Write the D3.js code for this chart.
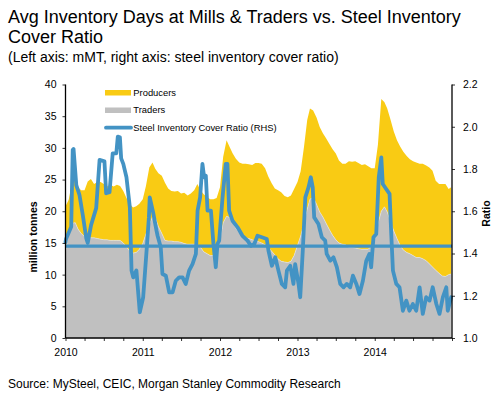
<!DOCTYPE html>
<html>
<head>
<meta charset="utf-8">
<script src="https://cdn.jsdelivr.net/npm/d3@7/dist/d3.min.js"></script>
<style>
  html, body { margin: 0; padding: 0; background: #fff; }
  svg { display: block; font-family: "Liberation Sans", Arial, sans-serif; }
</style>
</head>
<body>
<svg id="chart" width="491" height="397"></svg>
<script>
// ---------- DATA ----------
const titleLines = ["Avg Inventory Days at Mills & Traders vs. Steel Inventory", "Cover Ratio"];
const subtitle = "(Left axis: mMT, right axis: steel inventory cover ratio)";
const sourceText = "Source: MySteel, CEIC, Morgan Stanley Commodity Research";
const seriesNames = ["Producers", "Traders", "Steel Inventory Cover Ratio (RHS)"];
const leftTicks = [0, 5, 10, 15, 20, 25, 30, 35, 40];
const rightTicks = [1.0, 1.2, 1.4, 1.6, 1.8, 2.0, 2.2];
const yearLabels = ["2010", "2011", "2012", "2013", "2014"];

// semi-monthly periods (1st & 16th of each month), 2010-01 .. 2014-12, plus last reading
const periodDates = [];
for (let y = 2010; y <= 2014; y++) for (let m = 0; m < 12; m++) {
  periodDates.push(new Date(y, m, 1), new Date(y, m, 16));
}
periodDates.push(new Date(2014, 11, 28));

// million tonnes, stacked: traders (bottom) + producers (top)
const traders = [
  13.5,16.8,18.1,18.2,17.2,16.5,16.0,15.9,15.8,15.8,15.7,15.6,15.5,15.5,15.4,15.4,15.4,15.4,15.0,14.4,
  13.7,13.4,13.5,14.0,14.9,16.4,17.9,19.1,19.0,17.6,16.5,15.4,15.3,15.3,15.2,15.2,15.1,14.9,14.8,14.8,
  14.8,14.8,14.3,13.6,13.3,13.0,13.0,13.6,15.5,18.2,19.2,19.0,18.2,17.3,16.6,16.1,15.8,15.7,15.5,15.3,
  15.2,15.0,14.7,14.3,13.7,13.1,12.5,12.1,12.0,11.9,12.1,13.0,14.6,16.1,18.2,20.3,21.9,22.2,21.1,19.9,
  19.1,18.1,17.1,16.2,15.5,15.0,14.8,14.7,14.3,14.3,14.2,14.1,14.0,14.0,14.0,14.5,15.9,18.0,20.0,20.7,
  19.9,18.4,16.9,15.7,14.6,13.9,13.5,13.3,13.0,12.7,12.7,12.5,12.2,11.7,11.2,10.7,10.2,9.8,9.7,10.0,10.1
];
const producers = [
  7.3,5.0,6.4,7.9,6.6,6.8,7.3,8.8,9.3,8.5,8.9,9.0,8.8,8.4,8.8,8.5,8.8,8.6,8.2,7.7,
  7.4,7.2,7.3,7.2,7.0,7.6,9.0,8.6,7.7,8.4,9.1,9.1,8.3,7.9,7.9,8.0,7.7,8.0,7.7,8.0,
  8.5,9.5,9.0,9.1,8.9,8.9,8.9,8.5,8.3,10.4,12.0,11.1,10.9,11.0,11.1,11.4,11.7,11.7,11.8,12.3,
  12.4,12.5,12.1,11.2,10.7,10.5,10.8,10.9,10.4,10.3,10.4,10.5,10.0,10.2,12.0,14.1,14.3,13.7,13.7,13.4,
  13.2,13.4,13.5,13.6,13.6,13.0,12.7,12.8,13.6,13.5,13.7,13.5,13.3,13.4,13.1,12.3,10.9,12.5,17.7,16.5,
  16.3,16.1,15.7,15.5,15.6,15.5,15.2,14.9,14.9,15.0,14.8,15.0,15.0,15.2,15.2,14.1,14.1,14.5,14.6,13.5,13.7
];

// steel inventory cover ratio (RHS)
const ratioDates = [
  "2010-01-01","2010-01-04","2010-01-28","2010-02-04","2010-02-08","2010-02-21","2010-03-08","2010-03-24",
  "2010-04-09","2010-04-16","2010-05-02","2010-05-26","2010-06-11","2010-07-04","2010-07-12","2010-07-28",
  "2010-08-12","2010-08-29","2010-09-05","2010-09-15","2010-09-21","2010-10-01","2010-10-16","2010-11-01",
  "2010-11-09","2010-11-17","2010-12-02","2010-12-18","2011-01-03","2011-01-19","2011-01-30","2011-02-03",
  "2011-02-19","2011-03-07","2011-03-12","2011-03-27","2011-04-04","2011-04-20","2011-05-06","2011-05-22",
  "2011-06-06","2011-06-22","2011-07-08","2011-07-23","2011-08-08","2011-08-24","2011-09-09","2011-09-17",
  "2011-09-29","2011-10-10","2011-10-18","2011-10-26","2011-11-03","2011-11-19","2011-12-01","2011-12-12",
  "2011-12-20","2011-12-28","2012-01-13","2012-01-28","2012-02-05","2012-02-13","2012-02-29","2012-03-24",
  "2012-04-16","2012-05-10","2012-05-26","2012-06-11","2012-06-26","2012-07-17","2012-08-09","2012-08-17",
  "2012-09-02","2012-09-18","2012-10-03","2012-10-19","2012-11-04","2012-11-12","2012-11-28","2012-12-13",
  "2012-12-21","2013-01-06","2013-01-14","2013-01-26","2013-02-07","2013-02-22","2013-03-05","2013-03-14",
  "2013-03-21","2013-04-10","2013-04-26","2013-05-12","2013-05-19","2013-06-05","2013-06-20","2013-07-06",
  "2013-07-22","2013-08-07","2013-08-22","2013-09-07","2013-09-20","2013-10-06","2013-10-21","2013-11-06",
  "2013-11-22","2013-12-07","2013-12-15","2013-12-26","2014-01-08","2014-01-20","2014-02-01","2014-02-08",
  "2014-02-24","2014-03-12","2014-03-20","2014-03-28","2014-04-13","2014-04-28","2014-05-14","2014-05-30",
  "2014-06-14","2014-06-30","2014-07-16","2014-08-01","2014-08-16","2014-09-01","2014-09-17","2014-10-02",
  "2014-10-19","2014-11-03","2014-11-19","2014-12-05","2014-12-12","2014-12-28"
];
const ratioValues = [
  1.454,1.470,1.527,1.890,1.895,1.724,1.677,1.580,
  1.473,1.450,1.535,1.615,1.843,1.836,1.685,1.690,
  1.874,1.874,1.953,1.950,1.850,1.824,1.761,1.619,
  1.319,1.287,1.320,1.122,1.193,1.413,1.571,1.666,
  1.595,1.508,1.484,1.429,1.303,1.295,1.216,1.216,
  1.271,1.287,1.287,1.256,1.319,1.350,1.398,1.603,
  1.666,1.824,1.761,1.768,1.603,1.603,1.445,1.335,
  1.445,1.461,1.666,1.824,1.824,1.603,1.555,1.524,
  1.484,1.461,1.437,1.445,1.484,1.477,1.469,1.413,
  1.342,1.382,1.319,1.256,1.240,1.319,1.342,1.256,
  1.350,1.256,1.193,1.413,1.666,1.713,1.761,1.713,
  1.571,1.540,1.477,1.461,1.398,1.366,1.382,1.335,
  1.256,1.240,1.256,1.240,1.295,1.256,1.208,1.271,
  1.366,1.398,1.335,1.477,1.492,1.761,1.855,1.729,
  1.705,1.682,1.492,1.319,1.256,1.240,1.129,1.177,
  1.129,1.161,1.129,1.240,1.114,1.193,1.177,1.240,
  1.161,1.114,1.193,1.240,1.129,1.193
];
const ratioAverage = 1.435;

// ---------- STYLE ----------
const colProducers = "#f9cb14";
const colTraders = "#c0c0c0";
const colRatio = "#4393c4";

// ---------- DRAW ----------
const svg = d3.select("#chart");
const M = { left: 65.5, right: 452, top: 84.5, bottom: 338 };

const x = d3.scaleTime()
  .domain([new Date(2010, 0, 1), new Date(2015, 0, 1)])
  .range([M.left, M.right]);
const yL = d3.scaleLinear().domain([0, 40]).range([M.bottom, M.top]);
const yR = d3.scaleLinear().domain([1.0, 2.2]).range([M.bottom, M.top]);

const rows = periodDates.map((d, i) => ({ date: d, traders: traders[i], producers: producers[i] }));
const stack = d3.stack().keys(["traders", "producers"])(rows);

const area = d3.area()
  .x(d => x(d.data.date))
  .y0(d => yL(d[0]))
  .y1(d => yL(d[1]));

svg.append("path").datum(stack[1]).attr("d", area).attr("fill", colProducers);
svg.append("path").datum(stack[0]).attr("d", area).attr("fill", colTraders)
  .attr("stroke", "#e6e6e6").attr("stroke-width", 0.6);

// average ratio line
svg.append("line")
  .attr("x1", x.range()[0]).attr("x2", x.range()[1])
  .attr("y1", yR(ratioAverage)).attr("y2", yR(ratioAverage))
  .attr("stroke", colRatio).attr("stroke-width", 3.3);

// ratio line
const parse = d3.timeParse("%Y-%m-%d");
const ratioPts = ratioDates.map((d, i) => ({ date: parse(d), v: ratioValues[i] }));
svg.append("path").datum(ratioPts)
  .attr("d", d3.line().x(d => x(d.date)).y(d => yR(d.v)))
  .attr("fill", "none").attr("stroke", colRatio).attr("stroke-width", 3.8)
  .attr("stroke-linejoin", "round").attr("stroke-linecap", "round");

// axes
const axisFont = g => g.selectAll("text").attr("font-size", "10.5px").attr("fill", "#000")
  .attr("font-family", '"Liberation Sans", Arial, sans-serif');

const gL = svg.append("g").attr("transform", `translate(${M.left},0)`)
  .call(d3.axisLeft(yL).tickValues(leftTicks).tickSize(3).tickPadding(6).tickFormat(d3.format("d")));
axisFont(gL);
const gR = svg.append("g").attr("transform", `translate(${M.right},0)`)
  .call(d3.axisRight(yR).tickValues(rightTicks).tickSize(3).tickPadding(8).tickFormat(d3.format(".1f")));
axisFont(gR);
const gB = svg.append("g").attr("transform", `translate(0,${M.bottom})`)
  .call(d3.axisBottom(x).ticks(d3.timeMonth.every(3)).tickSize(3).tickPadding(6)
    .tickFormat(d => (d.getMonth() === 0 && yearLabels.includes(String(d.getFullYear()))) ? String(d.getFullYear()) : ""));
axisFont(gB);
[gL, gR, gB].forEach(g => {
  g.select(".domain").attr("stroke", "#000").attr("stroke-width", 1.3);
  g.selectAll(".tick line").attr("stroke", "#000").attr("stroke-width", 0.8);
});
gB.select(".domain").attr("d", `M${M.left},0H${M.right}`);
gL.select(".domain").attr("d", `M0,${M.top}V${M.bottom}`);
gR.select(".domain").attr("d", `M0,${M.top}V${M.bottom}`);
gB.selectAll(".tick text").attr("dy", "0.9em");

// axis titles
svg.append("text").attr("transform", "translate(37,237) rotate(-90)")
  .attr("text-anchor", "middle").attr("font-size", "10.5px").attr("font-weight", "bold")
  .text("million tonnes");
svg.append("text").attr("transform", "translate(490,213.5) rotate(-90)")
  .attr("text-anchor", "middle").attr("font-size", "10.5px").attr("font-weight", "bold")
  .text("Ratio");

// titles
svg.append("text").attr("x", 8).attr("y", 22.5).attr("font-size", "18px").text(titleLines[0]);
svg.append("text").attr("x", 8).attr("y", 43.3).attr("font-size", "18px").text(titleLines[1]);
svg.append("text").attr("x", 8).attr("y", 61.5).attr("font-size", "14px").text(subtitle);
svg.append("text").attr("x", 8).attr("y", 387.5).attr("font-size", "12px").text(sourceText);

// legend
const lg = svg.append("g").attr("font-size", "9.4px");
lg.append("rect").attr("x", 105).attr("y", 90).attr("width", 26).attr("height", 5.5).attr("fill", colProducers);
lg.append("rect").attr("x", 105).attr("y", 107.5).attr("width", 26).attr("height", 5.5).attr("fill", colTraders);
lg.append("line").attr("x1", 106).attr("x2", 131).attr("y1", 127.7).attr("y2", 127.7)
  .attr("stroke", colRatio).attr("stroke-width", 3.8).attr("stroke-linecap", "round");
lg.append("text").attr("x", 133.3).attr("y", 96).text(seriesNames[0]);
lg.append("text").attr("x", 133.3).attr("y", 112.7).text(seriesNames[1]);
lg.append("text").attr("x", 133.3).attr("y", 130.5).text(seriesNames[2]);
</script>
</body>
</html>
